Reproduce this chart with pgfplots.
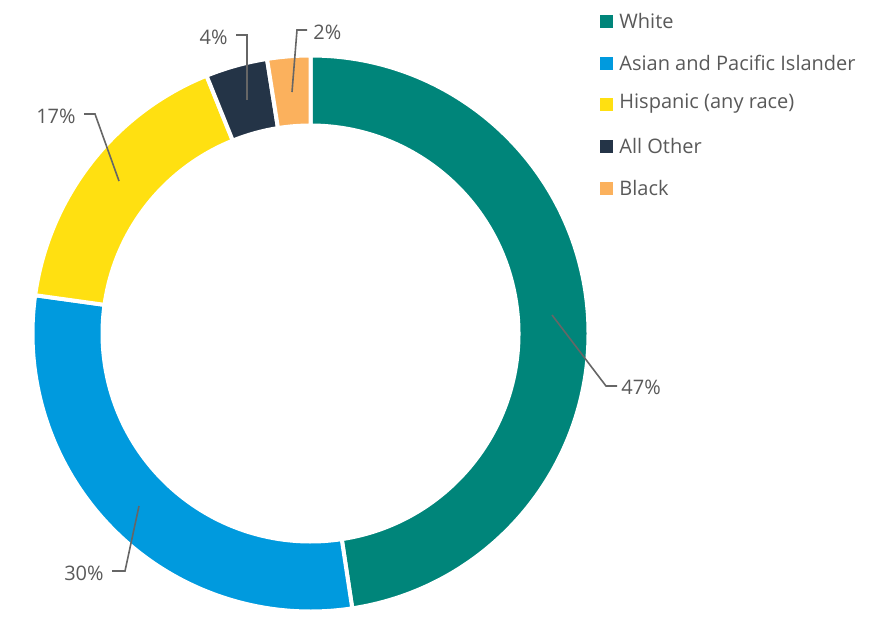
\documentclass[border=0pt]{standalone}
\usepackage{pgfplots}
\usepackage{pgfplotstable}
\pgfplotsset{compat=1.18}
\usepackage{fontspec}
\setmainfont{Open Sans}
\definecolor{cWhite}{HTML}{00857A}
\definecolor{cAsian}{HTML}{009ADE}
\definecolor{cHisp}{HTML}{FFE011}
\definecolor{cOther}{HTML}{243447}
\definecolor{cBlack}{HTML}{FBB15D}
\definecolor{txt}{HTML}{595959}
\definecolor{lead}{HTML}{666666}

\pgfplotstableread{
name value col
White 47.6 cWhite
Asian 29.6 cAsian
Hispanic 16.7 cHisp
Other 3.6 cOther
Black 2.5 cBlack
}\datatable

\begin{document}
\begin{tikzpicture}
\begin{axis}[
  width=444.5pt, height=307.5pt, scale only axis,
  xmin=0, xmax=889, ymin=0, ymax=615, y dir=reverse,
  hide axis, clip=false,
]
\path (axis cs:0,0) rectangle (axis cs:889,615);
\def\cum{0}
\pgfplotsforeachungrouped \i in {0,...,4}{%
  \pgfplotstablegetelem{\i}{value}\of\datatable
  \let\val\pgfplotsretval
  \pgfmathsetmacro\a{90-3.6*\cum}
  \pgfmathsetmacro\cumn{\cum+\val}
  \pgfmathsetmacro\b{90-3.6*\cumn}
  \pgfplotstablegetelem{\i}{col}\of\datatable
  \edef\temp{\noexpand\fill[\pgfplotsretval, draw=white, line width=2pt, shift={(axis cs:310.5,333.5)}]
    (\a:139pt) arc[start angle=\a, end angle=\b, radius=139pt] --
    (\b:104pt) arc[start angle=\b, end angle=\a, radius=104pt] -- cycle;}
  \temp
  \global\let\cum\cumn
}
% leader lines
\draw[lead, line width=0.8pt] (axis cs:552,315) -- (axis cs:606,386) -- (axis cs:617,386);
\draw[lead, line width=0.8pt] (axis cs:139,506) -- (axis cs:125,571) -- (axis cs:112,571);
\draw[lead, line width=0.8pt] (axis cs:119,181) -- (axis cs:95,114) -- (axis cs:84,114);
\draw[lead, line width=0.8pt] (axis cs:247,100) -- (axis cs:247,35) -- (axis cs:236,35);
\draw[lead, line width=0.8pt] (axis cs:292,92) -- (axis cs:297,30) -- (axis cs:307,30);
% labels
\begin{scope}[every node/.style={text=txt, font=\fontsize{10pt}{12pt}\selectfont, inner sep=0pt}]
\node[anchor=west] at (axis cs:621,387) {47\%};
\node[anchor=east] at (axis cs:104,573) {30\%};
\node[anchor=east] at (axis cs:76,116) {17\%};
\node[anchor=east] at (axis cs:228,37) {4\%};
\node[anchor=west] at (axis cs:313,32) {2\%};
% legend
\fill[cWhite] (axis cs:600,14.5) rectangle (axis cs:613,27.5);
\node[anchor=west] at (axis cs:619,21) {White};
\fill[cAsian] (axis cs:600,56.5) rectangle (axis cs:613,69.5);
\node[anchor=west] at (axis cs:619,63) {Asian and Pacific Islander};
\fill[cHisp] (axis cs:600,97.5) rectangle (axis cs:613,110.5);
\node[anchor=west] at (axis cs:619,104) {Hispanic (any race)};
\fill[cOther] (axis cs:600,139.5) rectangle (axis cs:613,152.5);
\node[anchor=west] at (axis cs:619,146) {All Other};
\fill[cBlack] (axis cs:600,181.5) rectangle (axis cs:613,194.5);
\node[anchor=west] at (axis cs:619,188) {Black};
\end{scope}
\end{axis}
\end{tikzpicture}
\end{document}
